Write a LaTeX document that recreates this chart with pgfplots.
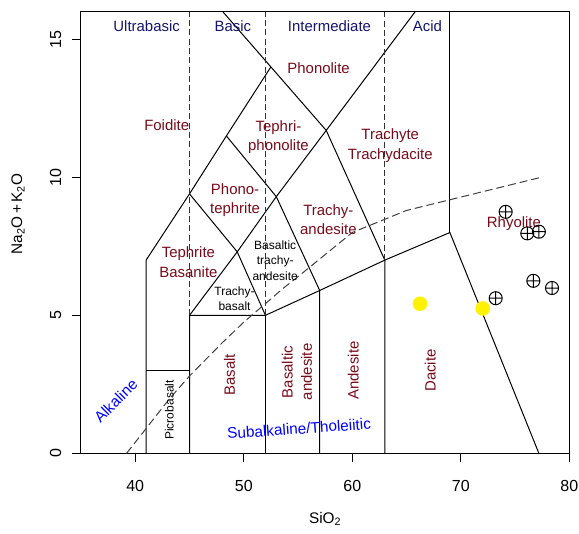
\documentclass[border=0pt]{standalone}
\usepackage{pgfplots}
\pgfplotsset{compat=1.18}
\usepackage{fontspec}
\setmainfont{Liberation Sans}

\definecolor{fieldred}{RGB}{120,10,25}
\definecolor{groupnavy}{RGB}{20,20,110}
\definecolor{labelblue}{RGB}{0,0,255}

\newcommand{\tasbig}{\fontsize{11.2}{14.5}\selectfont}
\newcommand{\tassmall}{\fontsize{9}{11.6}\selectfont}

\begin{document}
\begin{tikzpicture}
\path[use as bounding box] (-60.75pt,-60.5pt) rectangle (373.5pt,340pt);
\begin{axis}[
    at={(0,0)}, anchor=south west,
    scale only axis,
    width=366.2pt, height=331.2pt,
    xmin=35, xmax=80, ymin=0, ymax=16,
    xtick={40,50,60,70,80},
    ytick={0,5,10,15},
    tick align=outside,
    xtick pos=bottom, ytick pos=left,
    major tick length=6.75pt,
    axis line style={line width=0.75pt},
    every tick/.style={black, line width=0.75pt},
    /pgf/number format/assume math mode=true,
    tick label style={font=\fontsize{12}{14}\selectfont},
    xticklabel shift=9.75pt,
    yticklabel shift=4.5pt,
    yticklabel style={rotate=90, anchor=south},
    every axis x label/.style={at={(rel axis cs:0.5,0)}, yshift=-49.3pt, anchor=center},
    every axis y label/.style={at={(rel axis cs:0,0.542)}, xshift=-47.25pt, rotate=90, anchor=center},
    label style={font=\fontsize{11.5}{14}\selectfont},
    xlabel={SiO\textsubscript{2}},
    ylabel={Na\textsubscript{2}O\,+\,K\textsubscript{2}O},
]
% field boundaries
\addplot[black, line width=0.75pt] coordinates {(41,0) (41,7) (45,9.4) (48.4,11.5) (52.5,14)};
\addplot[black, line width=0.75pt] coordinates {(41,3) (45,3)};
\addplot[black, line width=0.75pt] coordinates {(45,0) (45,5) (52,5) (57,5.9) (63,7) (69,8) (77.2,0)};
\addplot[black, line width=0.75pt] coordinates {(45,5) (49.4,7.3) (53,9.3) (57.6,11.7) (65.8,16)};
\addplot[black, line width=0.75pt] coordinates {(45,9.4) (49.4,7.3) (52,5)};
\addplot[black, line width=0.75pt] coordinates {(48.4,11.5) (53,9.3) (57,5.9) (57,0)};
\addplot[black, line width=0.75pt] coordinates {(48.07,16) (52.5,14) (57.6,11.7) (63,7) (63,0)};
\addplot[black, line width=0.75pt] coordinates {(52,0) (52,5)};
\addplot[black, line width=0.75pt] coordinates {(69,8) (69,16)};
% silica classes
\addplot[black!80, line width=0.75pt, dash pattern=on 4.5pt off 2.5pt] coordinates {(45,5) (45,16)};
\addplot[black!80, line width=0.75pt, dash pattern=on 4.5pt off 2.5pt] coordinates {(52,5) (52,16)};
\addplot[black!80, line width=0.75pt, dash pattern=on 4.5pt off 2.5pt] coordinates {(63,7) (63,16)};
% alkaline / subalkaline divide
\addplot[black!75, line width=0.75pt, dash pattern=on 6pt off 3pt] coordinates {
    (39.2,0) (40,0.4) (43.2,2) (45,2.8) (48,4) (50,4.75) (53.7,6) (55,6.4) (60,8) (65,8.8) (77.4,10)};

% labels
\node[groupnavy, font=\tasbig] at (axis cs:41.05,15.46) {Ultrabasic};
\node[groupnavy, font=\tasbig] at (axis cs:49,15.46) {Basic};
\node[groupnavy, font=\tasbig] at (axis cs:57.9,15.46) {Intermediate};
\node[groupnavy, font=\tasbig] at (axis cs:66.93,15.46) {Acid};

\node[fieldred, font=\tasbig, align=center] at (axis cs:42.9,11.9) {Foidite};
\node[fieldred, font=\tasbig, align=center] at (axis cs:56.9,13.95) {Phonolite};
\node[fieldred, font=\tasbig, align=center] at (axis cs:53.2,11.46) {Tephri-\\phonolite};
\node[fieldred, font=\tasbig, align=center] at (axis cs:49.2,9.18) {Phono-\\tephrite};
\node[fieldred, font=\tasbig, align=center] at (axis cs:63.5,11.15) {Trachyte\\Trachydacite};
\node[fieldred, font=\tasbig, align=center] at (axis cs:57.8,8.46) {Trachy-\\andesite};
\node[fieldred, font=\tasbig, align=center] at (axis cs:44.9,6.93) {Tephrite\\Basanite};
\node[fieldred, font=\tasbig, align=center] at (axis cs:74.9,8.33) {Rhyolite};
\node[fieldred, font=\tasbig, align=center, rotate=90] at (axis cs:48.7,2.84) {Basalt};
\node[fieldred, font=\tasbig, align=center, rotate=90] at (axis cs:54.9,2.95) {Basaltic\\andesite};
\node[fieldred, font=\tasbig, align=center, rotate=90] at (axis cs:60.1,3.0) {Andesite};
\node[fieldred, font=\tasbig, align=center, rotate=90] at (axis cs:67.2,3.0) {Dacite};

\node[black, font=\tassmall, align=center] at (axis cs:52.9,6.98) {Basaltic\\trachy-\\andesite};
\node[black, font=\tassmall, align=center] at (axis cs:49.15,5.6) {Trachy-\\basalt};
\node[black, font=\tassmall, align=center, rotate=90] at (axis cs:43.14,1.57) {Picrobasalt};

\node[labelblue, font=\fontsize{11.5}{14}\selectfont, rotate=45] at (axis cs:38.2,1.9) {Alkaline};
\node[labelblue, font=\fontsize{11.5}{14}\selectfont, rotate=4] at (axis cs:55.1,0.9) {Subalkaline/Tholeiitic};

% samples
\addplot[only marks, mark=*, mark size=5.25pt, mark options={draw=yellow, fill=yellow}] coordinates {
    (66.24,5.42) (72.02,5.25)};
\addplot[only marks, mark=oplus, mark size=4.9pt, black, mark options={line width=0.75pt}] coordinates {
    (73.22,5.62) (76.69,6.25) (78.41,5.99) (74.14,8.75) (76.13,7.97) (77.2,8.03)};
\end{axis}
\end{tikzpicture}
\end{document}
